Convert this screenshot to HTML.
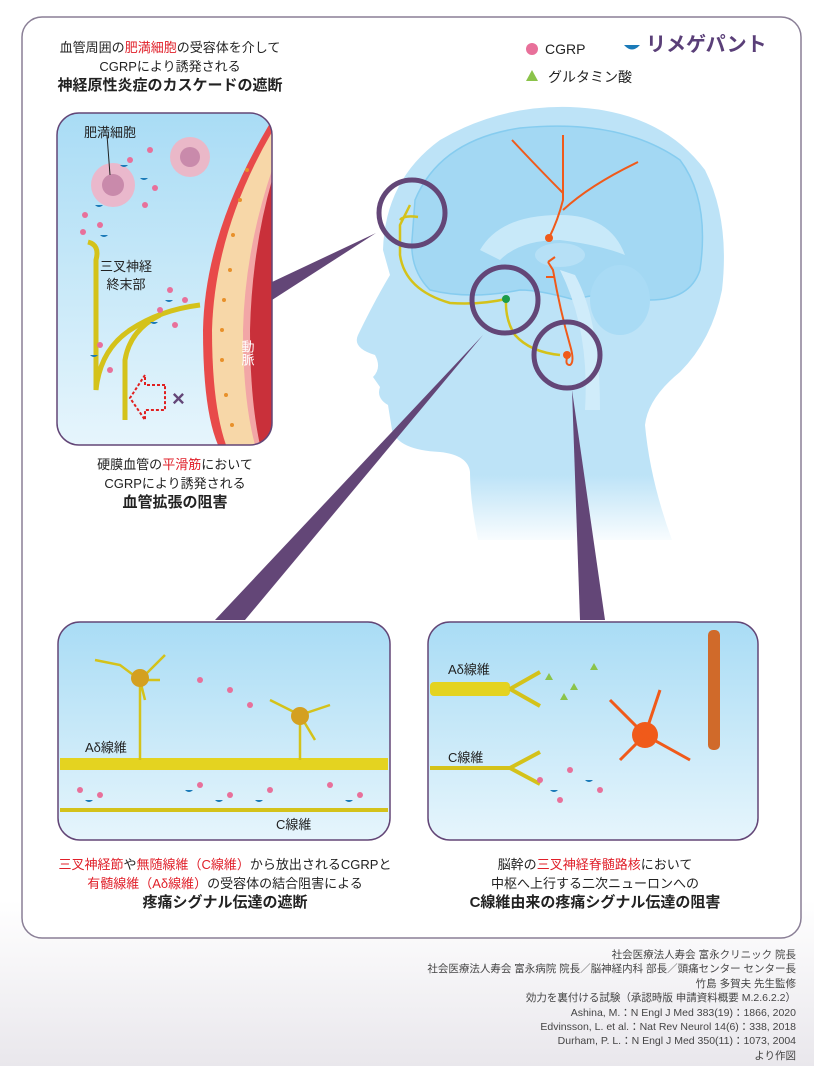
<!DOCTYPE html>
<html><head><meta charset="utf-8"><style>
body{margin:0;width:814px;height:1066px;overflow:hidden;background:linear-gradient(#fff 0,#fff 900px,#e9e7ec 1066px);font-family:"Liberation Sans","Noto Sans CJK JP",sans-serif}
.t{position:absolute;text-align:center;font-size:13px;color:#222;line-height:19px}
.b{font-weight:bold;font-size:15px}
.r{color:#e0202a}
</style></head><body>
<svg width="814" height="1066" style="position:absolute;left:0;top:0">
<defs>
<linearGradient id="bx" x1="0" y1="0" x2="0" y2="1"><stop offset="0" stop-color="#a9dcf5"/><stop offset="1" stop-color="#e6f5fc"/></linearGradient>
<linearGradient id="hd" x1="0" y1="0" x2="0" y2="1"><stop offset="0" stop-color="#bde3f7"/><stop offset="0.85" stop-color="#bde3f7"/><stop offset="1" stop-color="#bde3f7" stop-opacity="0.1"/></linearGradient>
<clipPath id="c1"><rect x="57" y="113" width="215" height="332" rx="22"/></clipPath>
</defs>
<rect x="22" y="17" width="779" height="921" rx="20" fill="#fff" stroke="#8a7f96" stroke-width="1.5"/>
<!-- head -->
<path d="M383 250 Q385 180 440 140 Q500 105 570 107 Q660 110 705 170 Q730 220 722 290 Q712 340 680 372 Q648 398 645 425 Q650 480 672 540 L478 540 Q470 500 470 472 Q468 455 440 452 Q398 450 392 430 L388 405 Q376 398 380 387 L373 377 Q382 368 375 355 Q352 348 358 335 Q375 300 390 275Z" fill="url(#hd)"/>
<path d="M415 200 Q440 140 520 128 Q620 118 680 160 Q710 200 700 270 Q690 300 650 300 Q600 290 575 300 Q540 290 520 290 Q470 300 430 290 Q410 270 412 240Z" fill="#a3d8f3" stroke="#86ccef" stroke-width="1.5"/>
<path d="M480 250 Q500 215 560 215 Q610 215 625 255 Q600 245 560 240 Q520 240 500 260Z" fill="#c8e9f9"/>
<ellipse cx="560" cy="255" rx="25" ry="12" fill="#b6e0f6"/>
<ellipse cx="620" cy="300" rx="30" ry="35" fill="#a9dbf5"/>
<path d="M560 270 Q590 330 585 410 L600 410 Q600 320 575 275Z" fill="#d0ecfa"/>
<!-- orange neuron -->
<path d="M512 140 Q540 170 563 193 M563 135 L563 200 Q558 220 549 238 M638 162 Q590 185 563 210" stroke="#f05a1a" stroke-width="2" fill="none"/>
<path d="M548 262 L553 270 Q560 310 570 345 Q575 362 570 365 Q565 365 567 358 M548 262 L555 257 M546 277 L555 277" stroke="#f05a1a" stroke-width="2" fill="none"/>
<circle cx="549" cy="238" r="4" fill="#f05a1a"/><circle cx="567" cy="355" r="4" fill="#f05a1a"/>
<!-- yellow nerve -->
<path d="M410 205 L400 225 L400 255 Q405 290 450 303 Q480 305 506 299 Q505 320 515 335 Q530 352 560 355 M400 220 Q404 215 418 217" stroke="#d4c21a" stroke-width="2.5" fill="none"/>
<circle cx="506" cy="299" r="4" fill="#1b9c4a"/>
<!-- wedges -->
<path d="M376 233 L272 282 L272 300 Z" fill="#634677"/>
<path d="M483 335 L215 620 L245 620 Z" fill="#634677"/>
<path d="M572 390 L580 620 L605 620 Z" fill="#634677"/>
<circle cx="412" cy="213" r="33" fill="none" stroke="#634677" stroke-width="5"/>
<circle cx="505" cy="300" r="33" fill="none" stroke="#634677" stroke-width="5"/>
<circle cx="567" cy="355" r="33" fill="none" stroke="#634677" stroke-width="5"/>
<!-- top-left box -->
<g clip-path="url(#c1)">
<rect x="57" y="113" width="215" height="332" fill="url(#bx)"/>
<path d="M272 120 Q205 230 203 330 Q203 410 218 445 L272 445Z" fill="#e84a4a"/>
<path d="M272 132 Q215 230 212 330 Q212 405 226 445 L272 445Z" fill="#f7d7a8"/>
<path d="M272 170 Q245 250 243 330 Q243 400 255 445 L272 445Z" fill="#f2a6a6"/>
<path d="M272 180 Q252 250 250 330 Q250 400 260 445 L272 445Z" fill="#c9303a"/>
<g fill="#e8902a"><circle cx="247" cy="170" r="2"/><circle cx="240" cy="200" r="2"/><circle cx="233" cy="235" r="2"/><circle cx="230" cy="270" r="2"/><circle cx="224" cy="300" r="2"/><circle cx="222" cy="330" r="2"/><circle cx="222" cy="360" r="2"/><circle cx="226" cy="395" r="2"/><circle cx="232" cy="425" r="2"/></g>
</g>
<rect x="57" y="113" width="215" height="332" rx="22" fill="none" stroke="#634677" stroke-width="1.5"/>
<circle cx="113" cy="185" r="22" fill="#eab8cc"/><circle cx="113" cy="185" r="11" fill="#c98aab"/>
<circle cx="190" cy="157" r="20" fill="#eab8c8"/><circle cx="190" cy="157" r="10" fill="#c98aab"/>
<path d="M107 135 L110 175" stroke="#222" stroke-width="1"/>
<path d="M88 242 Q100 245 96 260 L96 390 Q100 350 130 330 Q160 310 200 305" stroke="#d4c21a" stroke-width="5" fill="none"/>
<path d="M125 420 L125 360 Q130 330 160 315" stroke="#d4c21a" stroke-width="5" fill="none"/>
<path d="M165 385 L145 385 L145 375 L130 398 L145 420 L145 410 L165 410Z" fill="none" stroke="#e02020" stroke-width="2" stroke-dasharray="3 2"/>
<text x="172" y="406" font-size="22" fill="#634677" font-weight="bold">×</text>
<g fill="#e8709a"><circle cx="85" cy="215" r="3"/><circle cx="83" cy="232" r="3"/><circle cx="100" cy="225" r="3"/><circle cx="130" cy="160" r="3"/><circle cx="150" cy="150" r="3"/><circle cx="155" cy="188" r="3"/><circle cx="145" cy="205" r="3"/><circle cx="160" cy="310" r="3"/><circle cx="175" cy="325" r="3"/><circle cx="185" cy="300" r="3"/><circle cx="100" cy="345" r="3"/><circle cx="110" cy="370" r="3"/><circle cx="170" cy="290" r="3"/></g>
<g fill="#1a7ab8"><path d="M120 165 q4 4 8 0z M140 178 q4 4 8 0z M95 205 q4 4 8 0z M100 235 q4 4 8 0z M165 300 q4 4 8 0z M150 322 q4 4 8 0z M90 355 q4 4 8 0z"/></g>
<text x="248" y="340" font-size="13" fill="#fff" font-family="Noto Sans CJK JP" writing-mode="tb">動脈</text>
<!-- bottom boxes -->
<rect x="58" y="622" width="332" height="218" rx="22" fill="url(#bx)" stroke="#634677" stroke-width="1.5"/>
<rect x="428" y="622" width="330" height="218" rx="22" fill="url(#bx)" stroke="#634677" stroke-width="1.5"/>
<rect x="60" y="758" width="328" height="12" fill="#e4d320"/>
<rect x="60" y="808" width="328" height="4" fill="#d4c21a"/>
<path d="M140 760 L140 680 M300 760 L300 720 M95 660 L120 665 L140 680 L165 655 M160 680 L140 680 L145 700 M270 700 L300 715 L330 705 M300 715 L315 740" stroke="#d4c21a" stroke-width="2.5" fill="none"/>
<circle cx="140" cy="678" r="9" fill="#d4a020"/><circle cx="300" cy="716" r="9" fill="#d4a020"/>
<rect x="430" y="682" width="80" height="14" rx="4" fill="#e4d320"/>
<path d="M430 768 L510 768 M510 689 L540 672 M510 689 L540 706 M510 768 L540 752 M510 768 L540 784" stroke="#d4c21a" stroke-width="4" fill="none"/>
<circle cx="645" cy="735" r="13" fill="#f05a1a"/>
<path d="M610 700 L645 735 L690 760 M620 760 L645 735 L660 690" stroke="#f05a1a" stroke-width="3" fill="none"/>
<rect x="708" y="630" width="12" height="120" rx="5" fill="#d06a2a"/>
<g fill="#e8709a">
<circle cx="80" cy="790" r="3"/><circle cx="100" cy="795" r="3"/><circle cx="200" cy="785" r="3"/><circle cx="230" cy="795" r="3"/><circle cx="270" cy="790" r="3"/><circle cx="330" cy="785" r="3"/><circle cx="360" cy="795" r="3"/><circle cx="200" cy="680" r="3"/><circle cx="230" cy="690" r="3"/><circle cx="250" cy="705" r="3"/><circle cx="540" cy="780" r="3"/><circle cx="570" cy="770" r="3"/><circle cx="560" cy="800" r="3"/><circle cx="600" cy="790" r="3"/>
</g>
<g fill="#1a7ab8"><path d="M85 800 q4 4 8 0z M215 800 q4 4 8 0z M255 800 q4 4 8 0z M345 800 q4 4 8 0z M185 790 q4 4 8 0z M550 790 q4 4 8 0z M585 780 q4 4 8 0z"/></g>
<g fill="#8bc34a"><path d="M545 680 l4 -7 l4 7z M570 690 l4 -7 l4 7z M590 670 l4 -7 l4 7z M560 700 l4 -7 l4 7z"/></g>
<!-- legend -->
<circle cx="532" cy="49" r="6" fill="#e8709a"/>
<path d="M624 45 Q632 54 640 45Z" fill="#1a7ab8"/>
<path d="M526 81 l6 -11 l6 11z" fill="#8bc34a"/>
</svg>
<div class="t" style="left:40px;top:38px;width:260px">血管周囲の<span class="r">肥満細胞</span>の受容体を介して<br>CGRPにより誘発される<br><span class="b">神経原性炎症のカスケードの遮断</span></div>
<div class="t" style="left:545px;top:40px;font-size:14px">CGRP</div>
<div class="t" style="left:646px;top:36px;font-size:20px;font-weight:bold;color:#5a3f78">リメゲパント</div>
<div class="t" style="left:548px;top:68px;font-size:14px">グルタミン酸</div>
<div class="t" style="left:84px;top:123px">肥満細胞</div>
<div class="t" style="left:100px;top:258px;line-height:18px">三叉神経<br>終末部</div>
<div class="t" style="left:60px;top:455px;width:230px">硬膜血管の<span class="r">平滑筋</span>において<br>CGRPにより誘発される<br><span class="b">血管拡張の阻害</span></div>
<div class="t" style="left:85px;top:738px">Aδ線維</div>
<div class="t" style="left:276px;top:815px">C線維</div>
<div class="t" style="left:448px;top:660px">Aδ線維</div>
<div class="t" style="left:448px;top:748px">C線維</div>
<div class="t" style="left:40px;top:855px;width:370px"><span class="r">三叉神経節</span>や<span class="r">無随線維（C線維）</span>から放出されるCGRPと<br><span class="r">有髄線維（Aδ線維）</span>の受容体の結合阻害による<br><span class="b">疼痛シグナル伝達の遮断</span></div>
<div class="t" style="left:420px;top:855px;width:350px">脳幹の<span class="r">三叉神経脊髄路核</span>において<br>中枢へ上行する二次ニューロンへの<br><span class="b">C線維由来の疼痛シグナル伝達の阻害</span></div>
<div class="t" style="right:18px;top:948px;text-align:right;font-size:10.5px;line-height:14.4px;color:#444">社会医療法人寿会 富永クリニック 院長<br>社会医療法人寿会 富永病院 院長／脳神経内科 部長／頭痛センター センター長<br>竹島 多賀夫 先生監修<br>効力を裏付ける試験（承認時版 申請資料概要 M.2.6.2.2）<br>Ashina, M.：N Engl J Med 383(19)：1866, 2020<br>Edvinsson, L. et al.：Nat Rev Neurol 14(6)：338, 2018<br>Durham, P. L.：N Engl J Med 350(11)：1073, 2004<br>より作図</div>
</body></html>
